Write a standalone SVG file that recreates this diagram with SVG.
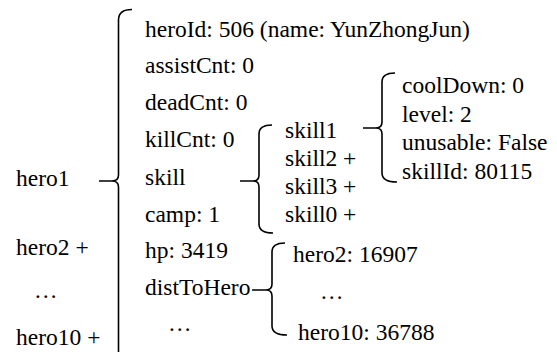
<svg xmlns="http://www.w3.org/2000/svg" width="557" height="352" viewBox="0 0 557 352">
<style>
.t text{font-family:'Liberation Serif','Times New Roman','DejaVu Serif',serif;font-size:23.5px;fill:#000}
.br{fill:none;stroke:#000;stroke-width:1.6;stroke-linecap:butt;stroke-linejoin:round}
</style>
<rect width="557" height="352" fill="#fff"/>
<g id="connectors">
<path class="br" d="M132,9.5 Q118.5,9.5 118.5,20 L118.5,175 Q118.5,181 112,181 L99,181 M112,181 Q118.5,181 118.5,187 L118.5,353"/>
<path class="br" d="M272,125 Q259,125 259,134 L259,175 Q259,181 253,181 L240,181 M253,181 Q259,181 259,187 L259,224 Q259,233 273,233"/>
<path class="br" d="M395,73 Q382,73 382,82 L382,122 Q382,128 376,128 L363,128 M376,128 Q382,128 382,134 L382,173 Q382,182 397,182"/>
<path class="br" d="M285,243 Q272,243 272,252 L272,284 Q272,290 266,290 L252,290 M266,290 Q272,290 272,296 L272,326 Q272,335 287,335"/>
</g>
<g class="t" font-family="Liberation Serif, Times New Roman, DejaVu Serif, serif" font-size="23.5">
<g id="hero1"><text x="16" y="186">hero1</text></g>
<g id="hero2"><text x="16" y="254.5">hero2 +</text></g>
<g id="heroEllipsis"><text x="34" y="298">…</text></g>
<g id="hero10"><text x="16" y="345">hero10 +</text></g>
<g id="heroId"><text x="145" y="37">heroId: 506 (name: YunZhongJun)</text></g>
<g id="assistCnt"><text x="145" y="73">assistCnt: 0</text></g>
<g id="deadCnt"><text x="145" y="109.5">deadCnt: 0</text></g>
<g id="killCnt"><text x="145" y="146.5">killCnt: 0</text></g>
<g id="skill"><text x="145" y="184.5">skill</text></g>
<g id="camp"><text x="145" y="221.5">camp: 1</text></g>
<g id="hp"><text x="145" y="258">hp: 3419</text></g>
<g id="distToHero"><text x="145" y="295">distToHero</text></g>
<g id="fieldEllipsis"><text x="168" y="331">…</text></g>
<g id="skill1"><text x="285" y="138">skill1</text></g>
<g id="skill2"><text x="285" y="166">skill2 +</text></g>
<g id="skill3"><text x="285" y="193.5">skill3 +</text></g>
<g id="skill0"><text x="285" y="221.5">skill0 +</text></g>
<g id="coolDown"><text x="402" y="93">coolDown: 0</text></g>
<g id="level"><text x="402" y="121.5">level: 2</text></g>
<g id="unusable"><text x="402" y="150">unusable: False</text></g>
<g id="skillId"><text x="402" y="178.5">skillId: 80115</text></g>
<g id="dist2"><text x="293" y="262">hero2: 16907</text></g>
<g id="distEllipsis"><text x="320" y="299">…</text></g>
<g id="dist10"><text x="298" y="340">hero10: 36788</text></g>
</g>
</svg>
